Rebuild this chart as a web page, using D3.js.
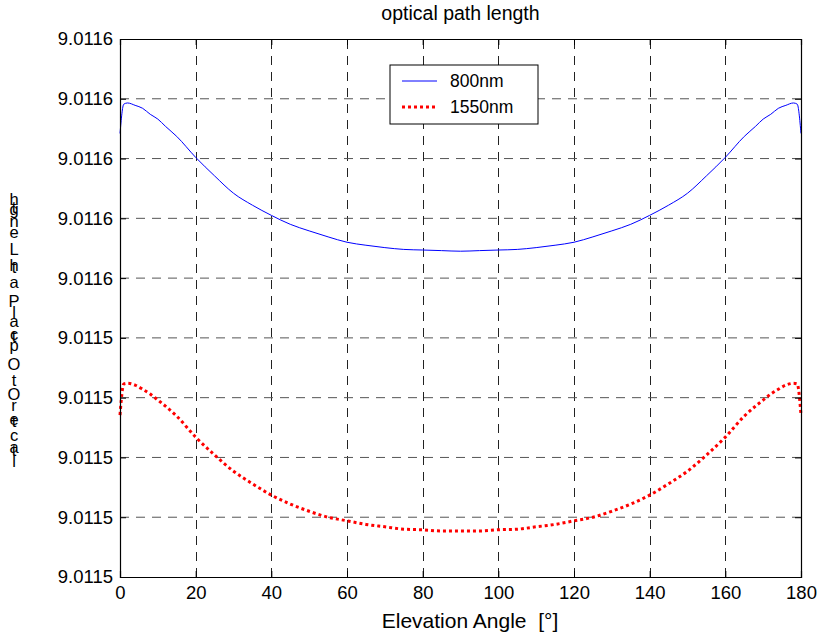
<!DOCTYPE html>
<html>
<head>
<meta charset="utf-8">
<script src="https://cdn.jsdelivr.net/npm/d3@7"></script>
<style>
  body { margin: 0; background: #fff; }
  text { font-family: "Liberation Sans", Arial, sans-serif; fill: #000; }
</style>
</head>
<body>
<script>
var width = 821;
var height = 636;

// elevation angle samples (degrees)
var angles = [0, 1, 2, 4, 6, 8, 10, 12, 15, 20, 25, 30, 35, 40, 45, 50, 55, 60, 65, 70, 75, 80, 85,
  90, 95, 100, 105, 110, 115, 120, 125, 130, 135, 140, 145, 150, 155, 160, 165, 168, 170, 172, 174, 176, 178, 179, 180];

var path800 = [9.01155342, 9.01155391, 9.01155393, 9.01155389, 9.01155384, 9.01155374, 9.01155366, 9.01155354,
  9.01155337, 9.01155302, 9.01155271, 9.01155242, 9.01155222, 9.01155205, 9.01155190, 9.01155179, 9.01155169,
  9.01155160, 9.01155155, 9.01155151, 9.01155148, 9.01155147, 9.01155146, 9.01155145, 9.01155146, 9.01155147,
  9.01155148, 9.01155151, 9.01155155, 9.01155160, 9.01155169, 9.01155179, 9.01155190, 9.01155205, 9.01155222,
  9.01155242, 9.01155271, 9.01155302, 9.01155337, 9.01155354, 9.01155366, 9.01155374, 9.01155384, 9.01155389,
  9.01155393, 9.01155391, 9.01155342];

var path1550 = [9.01154871, 9.01154923, 9.01154924, 9.01154921, 9.01154914, 9.01154906, 9.01154896, 9.01154886,
  9.01154869, 9.01154834, 9.01154804, 9.01154777, 9.01154756, 9.01154737, 9.01154722, 9.01154710, 9.01154700,
  9.01154694, 9.01154688, 9.01154684, 9.01154680, 9.01154679, 9.01154677, 9.01154677, 9.01154677, 9.01154679,
  9.01154680, 9.01154684, 9.01154688, 9.01154694, 9.01154700, 9.01154710, 9.01154722, 9.01154737, 9.01154756,
  9.01154777, 9.01154804, 9.01154834, 9.01154869, 9.01154886, 9.01154896, 9.01154906, 9.01154914, 9.01154921,
  9.01154924, 9.01154923, 9.01154871];

var xTicks = [0, 20, 40, 60, 80, 100, 120, 140, 160, 180];
var yTicks = [9.011546, 9.011547, 9.011548, 9.011549, 9.011550, 9.011551, 9.011552, 9.011553, 9.011554, 9.011555];
var seriesNames = ["800nm", "1550nm"];

var margin = { left: 120, right: 20, top: 39, bottom: 59 };

var svg = d3.select("body")
    .append("svg")
    .attr("width", width)
    .attr("height", height);

var x = d3.scaleLinear()
    .domain([0, 180])
    .range([margin.left, width - margin.right]);

var y = d3.scaleLinear()
    .domain([9.011546, 9.011555])
    .range([height - margin.bottom, margin.top]);

// matlab style label: 4 decimals
function fmt(d) {
    return (Math.round(d * 1e4 - 1e-6) / 1e4).toFixed(4);
}

// grid
var grid = svg.append("g");
grid.selectAll(".vg")
    .data(xTicks.slice(1, -1))
    .enter()
    .append("line")
    .attr("x1", function(d) { return Math.round(x(d)) + 0.5; })
    .attr("x2", function(d) { return Math.round(x(d)) + 0.5; })
    .attr("y1", y.range()[0])
    .attr("y2", y.range()[1])
    .attr("stroke", "#222")
    .attr("stroke-dasharray", "9,7");
grid.selectAll(".hg")
    .data(yTicks.slice(1, -1))
    .enter()
    .append("line")
    .attr("x1", x.range()[0])
    .attr("x2", x.range()[1])
    .attr("y1", function(d) { return y(d); })
    .attr("y2", function(d) { return y(d); })
    .attr("stroke", "#555")
    .attr("stroke-dasharray", "9,7");

// lines
var lineGen = d3.line()
    .x(function(d, i) { return x(angles[i]); })
    .y(function(d) { return y(d); })
    .curve(d3.curveMonotoneX);

svg.append("path")
    .datum(path800)
    .attr("fill", "none")
    .attr("stroke", "#0000ff")
    .attr("stroke-width", 1)
    .attr("d", lineGen);

svg.append("path")
    .datum(path1550)
    .attr("fill", "none")
    .attr("stroke", "#ff0000")
    .attr("stroke-width", 3)
    .attr("stroke-dasharray", "3,3")
    .attr("d", lineGen);

// axes, ticks pointing inward
var bottomAxis = d3.axisBottom(x).tickValues(xTicks).tickSize(-6).tickPadding(9);
var leftAxis = d3.axisLeft(y).tickValues(yTicks).tickFormat(fmt).tickSize(-6).tickPadding(7);

var gx = svg.append("g")
    .attr("transform", "translate(0," + y.range()[0] + ")")
    .call(bottomAxis);
var gy = svg.append("g")
    .attr("transform", "translate(" + x.range()[0] + ",0)")
    .call(leftAxis);
svg.append("g")
    .attr("transform", "translate(0," + y.range()[1] + ")")
    .call(d3.axisTop(x).tickValues(xTicks).tickSize(-6).tickFormat(""));
svg.append("g")
    .attr("transform", "translate(" + x.range()[1] + ",0)")
    .call(d3.axisRight(y).tickValues(yTicks).tickSize(-6).tickFormat(""));

svg.selectAll(".domain").attr("stroke", "#000").attr("stroke-width", 1.2);
svg.selectAll(".tick line").attr("stroke", "#000");
gx.selectAll("text").style("font-size", "18.5px").attr("fill", "#000");
gy.selectAll("text").style("font-size", "18.5px").attr("fill", "#000");

// title and x label
svg.append("text")
    .attr("x", (x.range()[0] + x.range()[1]) / 2)
    .attr("y", 20)
    .attr("text-anchor", "middle")
    .style("font-size", "19.5px")
    .text("optical path length");

svg.append("text")
    .attr("x", 470)
    .attr("y", 628)
    .attr("text-anchor", "middle")
    .style("font-size", "21px")
    .style("white-space", "pre")
    .text("Elevation Angle  [°]");

// y label rendered as a stack of upright glyphs
var yLabelGlyphs = [["h", 205], ["t", 213], ["g", 215], ["n", 227], ["e", 238], ["L", 255], ["h", 271],
  ["t", 273], ["a", 288], ["P", 307], ["l", 318], ["a", 327], ["c", 340], ["t", 342], ["p", 351], ["O", 370],
  ["t", 386], ["O", 400], ["r", 411], ["e", 425], ["t", 427], ["c", 441], ["a", 453], ["t", 456], ["l", 467]];

svg.append("g").selectAll("text")
    .data(yLabelGlyphs)
    .enter()
    .append("text")
    .attr("x", 14)
    .attr("y", function(d) { return d[1]; })
    .attr("text-anchor", "middle")
    .style("font-size", "16.5px")
    .text(function(d) { return d[0]; });

// legend
var legend = svg.append("g").attr("transform", "translate(390,65)");
legend.append("rect")
    .attr("width", 148)
    .attr("height", 59)
    .attr("fill", "#fff")
    .attr("stroke", "#000");

var legendStyles = [
    { color: "#0000ff", w: 1, dash: null },
    { color: "#ff0000", w: 3, dash: "3,3" }
];

seriesNames.forEach(function(name, i) {
    var ly = 16 + i * 26;
    legend.append("line")
        .attr("x1", 12)
        .attr("x2", 47)
        .attr("y1", ly)
        .attr("y2", ly)
        .attr("stroke", legendStyles[i].color)
        .attr("stroke-width", legendStyles[i].w)
        .attr("stroke-dasharray", legendStyles[i].dash);
    legend.append("text")
        .attr("x", 60)
        .attr("y", ly + 6)
        .style("font-size", "17.5px")
        .text(name);
});
</script>
</body>
</html>
